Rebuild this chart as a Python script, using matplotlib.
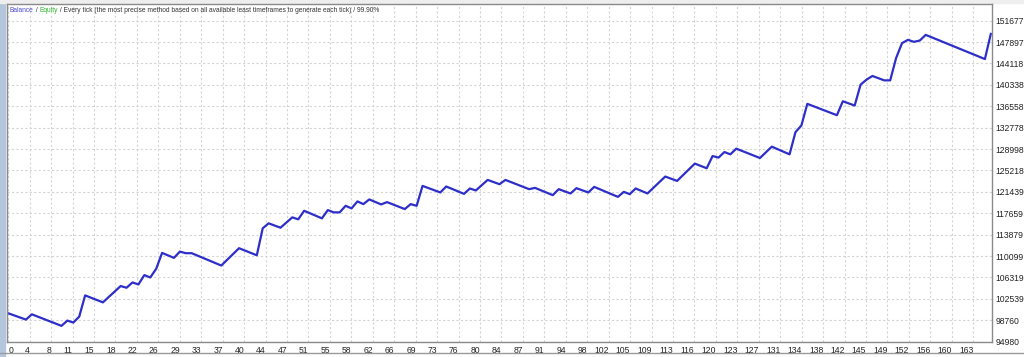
import numpy as np
import matplotlib.pyplot as plt
from matplotlib.lines import Line2D

plt.rcParams['font.family'] = ['Liberation Sans', 'DejaVu Sans']

# balance curve vertices (trade number, balance)
trades = [0, 3, 4, 9, 10, 11, 12, 13, 16, 19, 20, 21, 22, 23, 24, 25, 26, 28, 29, 30,
          31, 36, 39, 42, 43, 44, 46, 48, 49, 50, 53, 54, 55, 56, 57, 58, 59, 60, 61, 63,
          64, 67, 68, 69, 70, 73, 74, 77, 78, 79, 81, 83, 84, 88, 89, 92, 93, 95, 96, 98,
          99, 103, 104, 105, 106, 108, 111, 113, 116, 118, 119, 120, 121, 122, 123, 127, 129, 132, 133, 134,
          135, 140, 141, 143, 144, 145, 146, 148, 149, 150, 151, 152, 153, 154, 155, 165, 166]
balance = [100000, 98883, 99815, 97776, 98707, 98356, 99410, 103155, 101924, 104808,
           104509, 105440, 105089, 106741, 106320, 107849, 110662, 109783, 110890, 110609,
           110609, 108429, 111488, 110240, 115004, 115883, 115110, 116938, 116587, 118098,
           116762, 118221, 117817, 117817, 118977, 118520, 119751, 119276, 120102, 119223,
           119627, 118397, 119276, 118977, 122493, 121333, 122388, 121087, 122036, 121684,
           123548, 122792, 123548, 121913, 122142, 120858, 121913, 121157, 122089, 121333,
           122317, 120559, 121438, 121034, 122036, 121157, 124145, 123372, 126431, 125605,
           127767, 127486, 128470, 128066, 129068, 127416, 129420, 128066, 131986, 133164,
           136979, 134975, 137436, 136680, 140372, 141251, 141901, 141128, 141128, 145066,
           147703, 148283, 147931, 148160, 149162, 144890, 149330]

y_ticks = [94980, 98760, 102539, 106319, 110099, 113879, 117659, 121439, 125218,
           128998, 132778, 136558, 140338, 144118, 147897, 151677]
x_labels = ['0', '4', '8', '11', '15', '18', '22', '26', '29', '33', '37', '40', '44', '47',
            '51', '55', '58', '62', '66', '69', '73', '76', '80', '84', '87', '91', '94', '98',
            '102', '105', '109', '113', '116', '120', '123', '127', '131', '134', '138', '142',
            '145', '149', '152', '156', '160', '163']

fig = plt.figure(figsize=(10.24, 3.57), dpi=100, facecolor='white')
ax = fig.add_axes([7 / 1024, 15.3 / 357, 985 / 1024, 337.7 / 357])

ax.plot(trades, balance, color='#2e2ec8', lw=1.6, solid_joinstyle='round')

ax.set_xlim(-0.2, 166.2)
ax.set_ylim(94980, 154612)

grid_step = 3.623
xt = np.arange(len(x_labels)) * grid_step
ax.set_xticks(xt)
ax.set_xticklabels(x_labels)
ax.set_yticks(y_ticks)
ax.set_yticklabels([str(v) for v in y_ticks])
ax.yaxis.tick_right()
ax.tick_params(axis='both', length=0, labelsize=6.2, labelcolor='#222222')
ax.tick_params(axis='x', pad=3)
ax.tick_params(axis='y', pad=2.5)
for lbl in ax.get_xticklabels():
    lbl.set_horizontalalignment('right')
ax.get_xticklabels()[0].set_horizontalalignment('left')

ax.grid(True, color='#d4d4d4', lw=0.8, ls=(0, (2, 2)))
ax.set_axisbelow(True)
for s in ax.spines.values():
    s.set_color('#8a8a8a')
    s.set_linewidth(1.0)

# header text, three colours
hs = 4.8
t1 = ax.text(3 / 985, 1 - 2.5 / 337.7, 'Balance', transform=ax.transAxes, fontsize=hs,
             color='#4a4ad0', va='top', ha='left')
t2 = ax.annotate(' / ', xy=(1, 0), xycoords=t1, va='bottom', fontsize=hs, color='#333333')
t3 = ax.annotate('Equity', xy=(1, 0), xycoords=t2, va='bottom', fontsize=hs, color='#2cb82c')
ax.annotate(' / Every tick (the most precise method based on all available least timeframes '
            'to generate each tick) / 99.90%', xy=(1, 0), xycoords=t3, va='bottom',
            fontsize=hs, color='#333333')

# window chrome around the chart
fig.add_artist(plt.Rectangle((0, 0), 5 / 1024, 1, transform=fig.transFigure,
                             color='#b4c6dc', zorder=0))
fig.add_artist(plt.Rectangle((0, 1 - 3 / 357), 1, 3 / 357, transform=fig.transFigure,
                             color='#eeeeee', zorder=0))
fig.add_artist(Line2D([0, 1], [4.5 / 357, 4.5 / 357], transform=fig.transFigure,
                      color='#9a9a9a', lw=1.0))

fig.savefig('out.png', dpi=100, facecolor='white')
